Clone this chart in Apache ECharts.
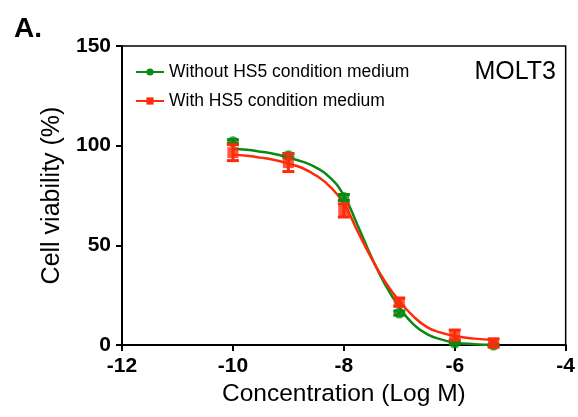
<!DOCTYPE html>
<html>
<head>
<meta charset="utf-8">
<script src="https://cdn.jsdelivr.net/npm/echarts@6/dist/echarts.min.js"></script>
<style>html,body{margin:0;padding:0;background:#fff}#c{width:578px;height:417px}</style>
</head>
<body>
<div id="c"></div>
<script>
var seriesNames = ['Without HS5 condition medium', 'With HS5 condition medium'];
var concentrations = [-10, -9, -8, -7, -6, -5.3];
var greenMean = [102, 95, 74, 16, 1, 0];
var greenSem = [1, 1, 1.5, 1, 0.5, 0.3];
var redMean = [96.5, 91.5, 67.5, 21.5, 5, 1];
var redSem = [4, 4.5, 3.3, 2, 2.5, 2];
var curveX = [-10, -9.75, -9.5, -9.25, -9, -8.75, -8.5, -8.25, -8, -7.75, -7.5, -7.25, -7, -6.75, -6.5, -6.25, -6, -5.65, -5.3];
var greenCurve = [98.5, 98, 97, 95.8, 94, 92, 89, 84, 75, 60, 44, 30, 19, 10.5, 5.5, 2.8, 1.3, 0.4, 0];
var redCurve = [95.5, 95, 94, 92.8, 91, 88.8, 85, 79.5, 71, 57, 43.5, 31.5, 22, 14.5, 9, 6.2, 4.5, 3.2, 2.5];
var xTicks = [-12, -10, -8, -6, -4];

var GREEN = '#0a8a12', RED = '#ff2a0a';
var FONT = 'Liberation Sans, Arial, sans-serif';

function pairs(xs, ys) { return xs.map(function (x, i) { return [x, ys[i]]; }); }
function errData(xs, m, s) { return xs.map(function (x, i) { return [x, m[i] - s[i], m[i] + s[i]]; }); }
function errRender(color) {
  return function (params, api) {
    var x = api.value(0);
    var lo = api.coord([x, api.value(1)]);
    var hi = api.coord([x, api.value(2)]);
    var w = 6;
    var st = { stroke: color, lineWidth: 3 };
    return { type: 'group', children: [
      { type: 'line', shape: { x1: lo[0], y1: lo[1], x2: hi[0], y2: hi[1] }, style: st },
      { type: 'line', shape: { x1: lo[0] - w, y1: lo[1], x2: lo[0] + w, y2: lo[1] }, style: st },
      { type: 'line', shape: { x1: hi[0] - w, y1: hi[1], x2: hi[0] + w, y2: hi[1] }, style: st }
    ] };
  };
}

var chart = echarts.init(document.getElementById('c'));
chart.setOption({
  animation: false,
  textStyle: { fontFamily: FONT },
  title: [
    { text: 'A.', left: 9, top: 10, textStyle: { fontSize: 28, fontWeight: 'bold', color: '#000', fontFamily: FONT } },
    { text: 'MOLT3', right: 17, top: 55, textStyle: { fontSize: 25, fontWeight: 'normal', color: '#000', fontFamily: FONT } }
  ],
  legend: {
    orient: 'vertical', left: 130, top: 58, itemGap: 11, itemWidth: 28, itemHeight: 9,
    data: seriesNames,
    textStyle: { fontSize: 17.5, color: '#000', fontFamily: FONT }
  },
  grid: { left: 122, right: 11, top: 46, bottom: 72, show: true, borderColor: '#000', borderWidth: 1.5 },
  xAxis: {
    type: 'value', min: -12, max: -4, interval: 2,
    name: 'Concentration (Log M)', nameLocation: 'middle', nameGap: 33,
    nameTextStyle: { fontSize: 24.5, color: '#000', fontFamily: FONT },
    axisLine: { lineStyle: { color: '#000', width: 2 } },
    axisTick: { length: 6, lineStyle: { color: '#000', width: 2 } },
    axisLabel: { fontSize: 21, fontWeight: 'bold', color: '#000', margin: 11, fontFamily: FONT, customValues: xTicks },
    splitLine: { show: false }
  },
  yAxis: {
    type: 'value', min: 0, max: 150, interval: 50,
    name: 'Cell viability (%)', nameLocation: 'middle', nameGap: 40,
    nameTextStyle: { fontSize: 25, color: '#000', fontFamily: FONT },
    axisLine: { show: true, lineStyle: { color: '#000', width: 2 } },
    axisTick: { show: true, length: 6, lineStyle: { color: '#000', width: 2 } },
    axisLabel: { fontSize: 21, fontWeight: 'bold', color: '#000', margin: 11, fontFamily: FONT },
    splitLine: { show: false }
  },
  series: [
    { name: seriesNames[0], type: 'line', smooth: 0.5, data: pairs(curveX, greenCurve), showSymbol: false,
      symbol: 'circle', symbolSize: 8, itemStyle: { color: GREEN }, lineStyle: { color: GREEN, width: 2.5 }, z: 2 },
    { name: seriesNames[1], type: 'line', smooth: 0.5, data: pairs(curveX, redCurve), showSymbol: false,
      symbol: 'rect', symbolSize: 9, itemStyle: { color: RED }, lineStyle: { color: RED, width: 2.5 }, z: 3 },
    { name: seriesNames[0], type: 'custom', renderItem: errRender(GREEN), data: errData(concentrations, greenMean, greenSem), z: 4 },
    { name: seriesNames[0], type: 'scatter', symbol: 'circle', symbolSize: 11, data: pairs(concentrations, greenMean), itemStyle: { color: GREEN }, z: 5 },
    { name: seriesNames[1], type: 'custom', renderItem: errRender(RED), data: errData(concentrations, redMean, redSem), z: 6 },
    { name: seriesNames[1], type: 'scatter', symbol: 'rect', symbolSize: 11, data: pairs(concentrations, redMean), itemStyle: { color: RED }, z: 7 }
  ]
});
</script>
</body>
</html>
